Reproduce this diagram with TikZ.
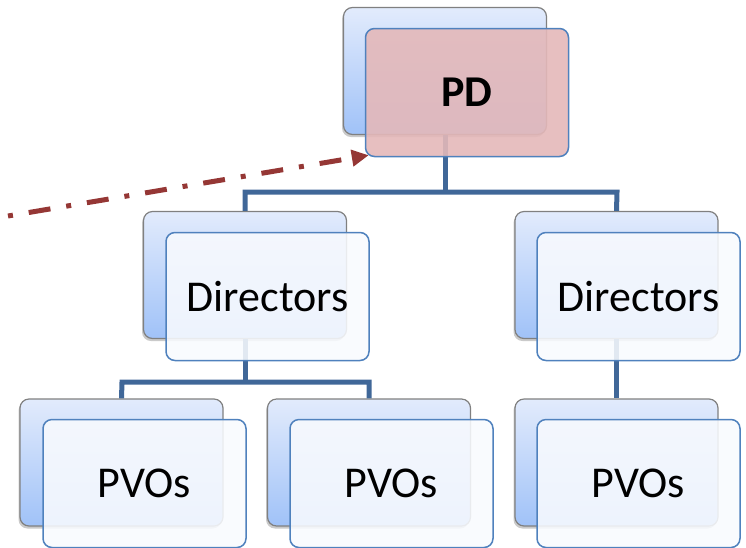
\documentclass[tikz,border=0pt]{standalone}
\usepackage{fontspec}
\setmainfont{Carlito}
\usetikzlibrary{arrows.meta,shadows}
\definecolor{backtop}{RGB}{226,235,252}
\definecolor{backbot}{RGB}{160,194,248}
\definecolor{backline}{RGB}{128,128,128}
\definecolor{frontfill}{RGB}{248,250,254}
\definecolor{frontline}{RGB}{79,129,189}
\definecolor{pdfill}{RGB}{228,184,185}
\definecolor{conn}{RGB}{64,103,152}
\definecolor{arrowred}{RGB}{149,55,53}
\tikzset{
  backbox/.style={draw=backline, line width=1.2pt, rounded corners=9pt,
    top color=backtop, bottom color=backbot,
    minimum width=203pt, minimum height=127pt, inner sep=0pt,
    drop shadow={shadow xshift=-1.5pt, shadow yshift=-2.5pt, opacity=0.35, fill=black!60}},
  frontbox/.style={draw=frontline, line width=1.5pt, rounded corners=9pt,
    fill=frontfill, fill opacity=0.88, text opacity=1,
    minimum width=203pt, minimum height=128pt, inner sep=0pt,
    font=\fontsize{44}{52}\selectfont},
  pdbox/.style={frontbox, fill=pdfill, fill opacity=0.9, font=\fontsize{44}{52}\selectfont\bfseries},
  connector/.style={draw=conn, line width=5pt, line join=miter},
  pointer/.style={draw=arrowred, line width=5pt,
    dash pattern=on 5pt off 16pt on 22pt off 16pt,
    -{Triangle[length=17pt,width=16pt]}}
}
\begin{document}
\begin{tikzpicture}[x=1pt,y=-1pt]
\useasboundingbox (0,0) rectangle (746,547);
% coordinates for tree branching
\coordinate (jtop) at (445,192);
\coordinate (jtopl) at (245,192);
\coordinate (jtopr) at (617,192);
\coordinate (jmid) at (245,382);
\coordinate (jmidl) at (122,382);
\coordinate (jmidr) at (369,382);
\coordinate (astart) at (8,216);
% back boxes
\node[backbox] (pdb) at (445,71) {};
\node[backbox] (dlb) at (245,275) {};
\node[backbox] (drb) at (616.5,275) {};
\node[backbox] (plb) at (121.5,462.5) {};
\node[backbox] (pmb) at (369,462.5) {};
\node[backbox] (prb) at (616.5,462.5) {};
% connectors
\draw[connector] (pdb.south) -- (jtop);
\draw[connector] (dlb.north) -- (jtopl) -- (jtopr) -- (drb.north);
\draw[connector] (dlb.south) -- (jmid);
\draw[connector] (plb.north) -- (jmidl) -- (jmidr) -- (pmb.north);
\draw[connector] (drb.south) -- (prb.north);
% front boxes
\node[pdbox] (pdf) at (467,92.5) {PD};
\node[frontbox] (dlf) at (267.5,296.5) {Directors};
\node[frontbox] (drf) at (638.5,296.5) {Directors};
\node[frontbox] (plf) at (144.5,483.5) {PVOs};
\node[frontbox] (pmf) at (391.5,483.5) {PVOs};
\node[frontbox] (prf) at (638.5,483.5) {PVOs};
% pointer arrow
\draw[pointer] (astart) -- ([shift={(4,-2)}]pdf.south west);
\end{tikzpicture}
\end{document}
